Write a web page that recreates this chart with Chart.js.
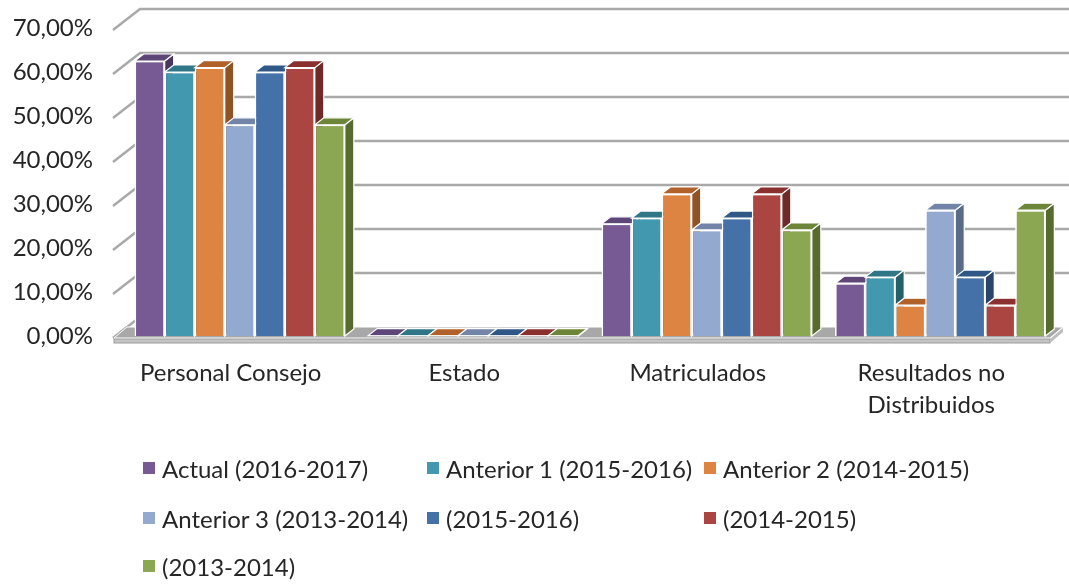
<!DOCTYPE html>
<html>
<head>
<meta charset="utf-8">
<script src="https://cdn.jsdelivr.net/npm/chart.js@4.4.1/dist/chart.umd.min.js"></script>
<style>
  body { margin: 0; background: #fff; }
  #wrap { position: relative; width: 1069px; height: 585px; font-family: Lato, 'Liberation Sans', sans-serif; }
  #legend { position: absolute; left: 0; top: 0; width: 1069px; height: 585px; pointer-events: none; }
  .item { position: absolute; display: flex; align-items: center; font-size: 24px; color: #262626; white-space: nowrap; }
  .item i { display: inline-block; width: 12px; height: 12px; margin-right: 7px; }
</style>
</head>
<body>
<div id="wrap">
  <canvas id="chart" width="1069" height="585"></canvas>
  <div id="legend"></div>
</div>
<script>
// categories and series (percent)
const categories = ['Personal Consejo', 'Estado', 'Matriculados', ['Resultados no', 'Distribuidos']];
const seriesNames = ['Actual (2016-2017)', 'Anterior 1 (2015-2016)', 'Anterior 2 (2014-2015)',
                     'Anterior 3 (2013-2014)', '(2015-2016)', '(2014-2015)', '(2013-2014)'];
const actual    = [62.5, 0.1, 25.5, 12.0];
const anterior1 = [60.0, 0.1, 26.8, 13.4];
const anterior2 = [61.0, 0.1, 32.3, 7.0];
const anterior3 = [48.0, 0.1, 24.1, 28.6];
const prev1     = [60.0, 0.1, 26.8, 13.4];
const prev2     = [61.0, 0.1, 32.3, 7.0];
const prev3     = [48.0, 0.1, 24.1, 28.6];
const yTicks    = [0, 10, 20, 30, 40, 50, 60, 70];

// front, top, side shades per series
const FRONT = ['#775a94', '#4198af', '#dd8442', '#93a9d0', '#4472a8', '#ab4541', '#8ba751'];
const TOP   = ['#5e4678', '#2f7787', '#b0622a', '#7285a8', '#305887', '#8a312f', '#6c8538'];
const SIDE  = ['#4a3760', '#245f6c', '#8f5325', '#5a6b88', '#2a4569', '#6e2a28', '#576b2f'];

const allSeries = [actual, anterior1, anterior2, anterior3, prev1, prev2, prev3];

// 3D look: wall, floor and extruded bars
const DEPTH = { x: 9, y: -7 };       // bar extrusion
const WALL  = { x: 27, y: -21 };     // back wall offset from the value labels

const threeD = {
  id: 'threeD',
  beforeDatasetsDraw(chart) {
    const { ctx, chartArea: a, scales: { y } } = chart;
    ctx.save();
    // back wall gridlines + slanted ticks
    ctx.lineWidth = 2.5;
    ctx.strokeStyle = '#a9a9a9';
    yTicks.forEach(v => {
      const yf = y.getPixelForValue(v) + 2;
      const x0 = a.left - 10;
      ctx.beginPath();
      ctx.moveTo(x0, yf);
      ctx.lineTo(x0 + WALL.x, yf + WALL.y);
      if (v > 0) ctx.lineTo(1069, yf + WALL.y);
      ctx.stroke();
    });
    // floor top surface
    const fl = a.left - 9, fr = a.right - 7, fy = a.bottom + 2;
    ctx.fillStyle = '#a8a8a8';
    ctx.beginPath();
    ctx.moveTo(fl, fy);
    ctx.lineTo(fr, fy);
    ctx.lineTo(fr + 13, fy - 11);
    ctx.lineTo(fl + 13, fy - 11);
    ctx.closePath();
    ctx.fill();
    ctx.strokeStyle = '#fff';
    ctx.lineWidth = 1;
    ctx.stroke();
    // floor front edge
    ctx.fillStyle = '#c4c4c4';
    ctx.fillRect(fl, fy + 1, fr - fl, 4);
    ctx.strokeStyle = '#9c9c9c';
    ctx.strokeRect(fl, fy + 1, fr - fl, 4);
    ctx.fillStyle = '#bdbdbd';
    ctx.beginPath();
    ctx.moveTo(fr, fy + 1); ctx.lineTo(fr + 13, fy - 10); ctx.lineTo(fr + 13, fy - 6); ctx.lineTo(fr, fy + 5);
    ctx.closePath(); ctx.fill();
    ctx.restore();
  },
  afterDatasetsDraw(chart) {
    const { ctx } = chart;
    ctx.save();
    ctx.lineWidth = 1.2;
    ctx.strokeStyle = '#ffffff';
    chart.data.datasets.forEach((ds, i) => {
      chart.getDatasetMeta(i).data.forEach(el => {
        const x0 = el.x - el.width / 2, x1 = el.x + el.width / 2;
        const top = el.y, base = el.base;
        // side face
        ctx.fillStyle = SIDE[i];
        ctx.beginPath();
        ctx.moveTo(x1, top);
        ctx.lineTo(x1 + DEPTH.x, top + DEPTH.y);
        ctx.lineTo(x1 + DEPTH.x, base + DEPTH.y);
        ctx.lineTo(x1, base);
        ctx.closePath();
        ctx.fill(); ctx.stroke();
        // top face
        ctx.fillStyle = TOP[i];
        ctx.beginPath();
        ctx.moveTo(x0, top);
        ctx.lineTo(x1, top);
        ctx.lineTo(x1 + DEPTH.x, top + DEPTH.y);
        ctx.lineTo(x0 + DEPTH.x, top + DEPTH.y);
        ctx.closePath();
        ctx.fill(); ctx.stroke();
        // front face again, on top of the previous bar's side
        el.draw(ctx, chart.chartArea);
      });
    });
    ctx.restore();
  }
};

new Chart(document.getElementById('chart'), {
  type: 'bar',
  data: {
    labels: categories,
    datasets: allSeries.map((vals, i) => ({
      label: seriesNames[i],
      data: vals,
      backgroundColor: FRONT[i],
      borderColor: '#ffffff',
      borderWidth: 1.5,
      categoryPercentage: 0.9,
      barPercentage: 1.0,
    }))
  },
  options: {
    responsive: false,
    animation: false,
    layout: { padding: { left: 0, right: 12, top: 28, bottom: 149 } },
    plugins: { legend: { display: false }, tooltip: { enabled: false } },
    scales: {
      x: {
        grid: { display: false, drawTicks: false },
        border: { display: false },
        ticks: { font: { family: 'Lato', size: 24, lineHeight: 1.35 }, color: '#262626', padding: 21, labelOffset: -9 },
        afterFit: s => { s.height = 100; },
      },
      y: {
        min: 0, max: 70,
        grid: { display: false, drawTicks: false },
        border: { display: false },
        ticks: {
          stepSize: 10,
          padding: 30,
          color: '#262626',
          font: { family: 'Lato', size: 24 },
          callback: v => v.toFixed(2).replace('.', ',') + '%',
        },
        afterFit: s => { s.width = 123; s.paddingTop = 10; s.paddingBottom = 10; },
      }
    }
  },
  plugins: [threeD]
});

// legend laid out in Excel's fixed columns
const legendCols = [143, 427, 704];
const legendRows = [468, 518, 566];
const legendEl = document.getElementById('legend');
seriesNames.forEach((name, i) => {
  const d = document.createElement('div');
  d.className = 'item';
  d.style.left = legendCols[i % 3] + 'px';
  d.style.top = (legendRows[Math.floor(i / 3)] - 15) + 'px';
  d.style.height = '30px';
  d.innerHTML = '<i style="background:' + FRONT[i] + '"></i>' + name;
  legendEl.appendChild(d);
});
</script>
</body>
</html>
